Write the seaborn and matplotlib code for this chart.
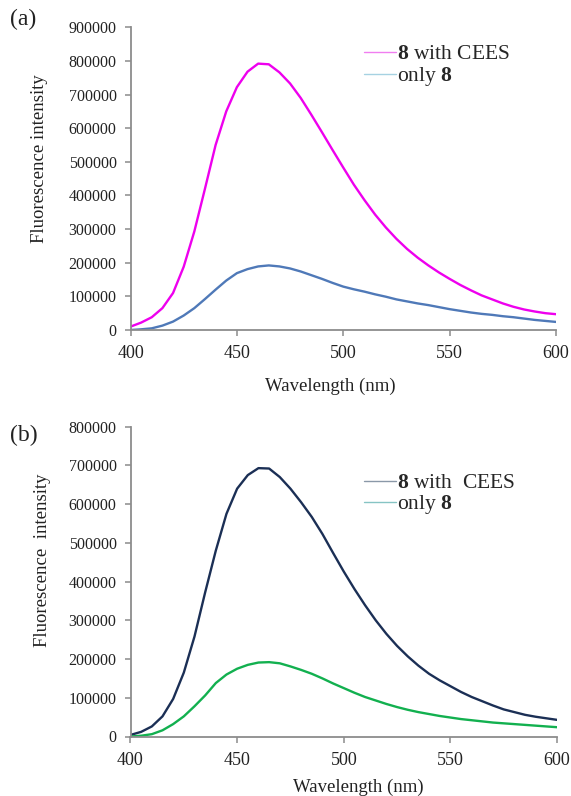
import matplotlib
matplotlib.use("Agg")
import matplotlib.pyplot as plt
import seaborn as sns
import pandas as pd
from matplotlib.lines import Line2D

# Emission spectra, 400-600 nm in 5 nm steps
wavelength = list(range(400, 601, 5))

a_with_cees = [10000, 22000, 38000, 65000, 110000, 188000, 293000, 420000, 550000,
               650000, 722000, 768000, 792000, 790000, 766000, 733000, 690000, 640000,
               588000, 535000, 483000, 432000, 386000, 343000, 305000, 271000, 241000,
               215000, 192000, 171000, 152000, 134000, 118000, 103000, 91000, 79000,
               69000, 61000, 55000, 50000, 47000]
a_only = [0, 2000, 5000, 13000, 25000, 43000, 65000, 92000, 120000, 147000, 169000,
          181000, 189000, 192000, 189000, 183000, 174000, 163000, 152000, 140000,
          129000, 121000, 114000, 106000, 99000, 91000, 85000, 79000, 74000, 68000,
          62000, 57000, 52000, 48000, 45000, 41000, 38000, 34000, 30000, 27000, 24000]

b_with_cees = [4000, 12000, 26000, 52000, 97000, 165000, 258000, 372000, 480000,
               575000, 640000, 675000, 693000, 692000, 670000, 640000, 605000, 567000,
               523000, 474000, 426000, 381000, 339000, 300000, 265000, 234000, 207000,
               183000, 162000, 145000, 130000, 115000, 102000, 91000, 80000, 70000,
               63000, 56000, 51000, 47000, 43000]
b_only = [0, 2000, 6000, 16000, 32000, 52000, 78000, 106000, 138000, 160000, 175000,
          185000, 191000, 192000, 189000, 181000, 172000, 162000, 150000, 137000,
          125000, 113000, 102000, 93000, 84000, 76000, 69000, 63000, 58000, 53000,
          49000, 45000, 42000, 39000, 36000, 34000, 32000, 30000, 28000, 26000, 24000]

series_names = ["8 with CEES", "only 8"]
x_ticks = [400, 450, 500, 550, 600]
y_ticks_a = [0, 100000, 200000, 300000, 400000, 500000, 600000, 700000, 800000, 900000]
y_ticks_b = [0, 100000, 200000, 300000, 400000, 500000, 600000, 700000, 800000]

sns.set_style("white")
plt.rcParams["font.family"] = ["Liberation Serif", "DejaVu Serif"]
plt.rcParams["mathtext.fontset"] = "custom"
plt.rcParams["mathtext.rm"] = "Liberation Serif"
plt.rcParams["mathtext.bf"] = "Liberation Serif:bold"

fig = plt.figure(figsize=(5.71, 7.96), dpi=100)
W, H = 571.0, 796.0


def frame(left, right, top, bottom):
    return [left / W, 1 - bottom / H, (right - left) / W, (bottom - top) / H]


def make_df(with_cees, only):
    return pd.DataFrame({
        "Wavelength": wavelength * 2,
        "Intensity": with_cees + only,
        "Sample": [series_names[0]] * len(wavelength) + [series_names[1]] * len(wavelength),
    })


def style_axes(ax, yticks):
    ax.set_xlim(400, 600)
    ax.set_ylim(0, yticks[-1])
    ax.set_xticks(x_ticks)
    ax.set_yticks(yticks)
    ax.set_yticklabels([str(v) for v in yticks])
    for side in ("top", "right"):
        ax.spines[side].set_visible(False)
    for side in ("left", "bottom"):
        ax.spines[side].set_color("#8c8c8c")
        ax.spines[side].set_linewidth(1.3)
    ax.tick_params(axis="both", direction="out", length=4, width=1.1, color="#8c8c8c",
                   colors="#222222")
    ax.tick_params(axis="y", labelsize=11.5, pad=6, left=True)
    ax.tick_params(axis="x", labelsize=13, pad=7, bottom=True)
    ax.set_xlabel("")
    ax.set_ylabel("")


# ---- panel (a)
ax_a = fig.add_axes(frame(130.5, 556, 27.3, 330))
pal_a = {series_names[0]: "#ee00ee", series_names[1]: "#4f79b8"}
sns.lineplot(data=make_df(a_with_cees, a_only), x="Wavelength", y="Intensity",
             hue="Sample", palette=pal_a, linewidth=1.7, legend=False, ax=ax_a)
style_axes(ax_a, y_ticks_a)
ax_a.set_xlabel("Wavelength (nm)", fontsize=13.5, color="#222222")
ax_a.xaxis.set_label_coords((330 - 130.5) / 425.5, (330 - 386) / 302.7)
ax_a.xaxis.label.set_va("center")
ax_a.set_ylabel("Fluorescence intensity", fontsize=13.5, color="#222222")
ax_a.yaxis.set_label_coords((40 - 130.5) / 425.5, (330 - 159) / 302.7)
ax_a.yaxis.label.set_va("center")
handles_a = [Line2D([], [], color="#f07ef0", lw=1.0),
             Line2D([], [], color="#a6d2e2", lw=1.0)]
ax_a.legend(handles_a, [r"$\mathbf{8}$ with CEES", r"only $\mathbf{8}$"],
            loc="upper left", bbox_to_anchor=(364 / W, 1 - 44 / H),
            bbox_transform=fig.transFigure, frameon=False, fontsize=15.5,
            handlelength=1.5, handletextpad=0.05, labelspacing=0.05, borderpad=0,
            borderaxespad=0)
fig.text(10 / W, 1 - 19 / H, "(a)", fontsize=17, ha="left", va="center", color="#222222")

# ---- panel (b)
ax_b = fig.add_axes(frame(130.5, 557, 426.7, 736.5))
pal_b = {series_names[0]: "#1b2f55", series_names[1]: "#12b04f"}
sns.lineplot(data=make_df(b_with_cees, b_only), x="Wavelength", y="Intensity",
             hue="Sample", palette=pal_b, linewidth=1.7, legend=False, ax=ax_b)
style_axes(ax_b, y_ticks_b)
ax_b.set_xlabel("Wavelength (nm)", fontsize=13.5, color="#222222")
ax_b.xaxis.set_label_coords((358 - 130.5) / 426.5, (736.5 - 787) / 309.8)
ax_b.xaxis.label.set_va("center")
ax_b.set_ylabel("Fluorescence  intensity", fontsize=13.5, color="#222222")
ax_b.yaxis.set_label_coords((43 - 130.5) / 426.5, (736.5 - 560) / 309.8)
ax_b.yaxis.label.set_va("center")
handles_b = [Line2D([], [], color="#8a98a8", lw=1.0),
             Line2D([], [], color="#86c4c4", lw=1.0)]
ax_b.legend(handles_b, [r"$\mathbf{8}$ with  CEES", r"only $\mathbf{8}$"],
            loc="upper left", bbox_to_anchor=(364 / W, 1 - 473 / H),
            bbox_transform=fig.transFigure, frameon=False, fontsize=15.5,
            handlelength=1.5, handletextpad=0.05, labelspacing=0.0, borderpad=0,
            borderaxespad=0)
fig.text(10 / W, 1 - 435 / H, "(b)", fontsize=17, ha="left", va="center", color="#222222")

fig.savefig("out.png", dpi=100)
